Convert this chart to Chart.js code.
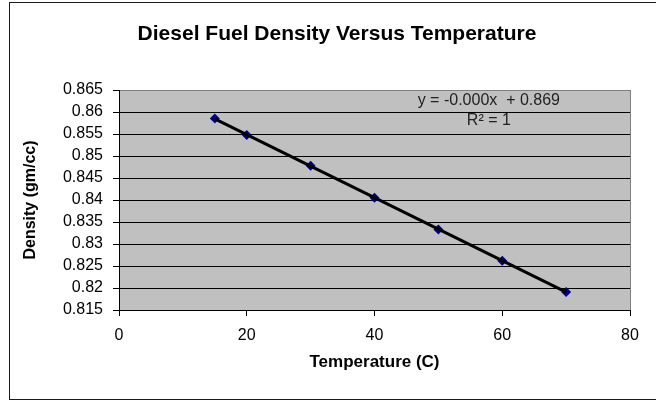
<!DOCTYPE html>
<html>
<head>
<meta charset="utf-8">
<title>Diesel Fuel Density Versus Temperature</title>
<script src="https://cdn.jsdelivr.net/npm/chart.js@4.4.1/dist/chart.umd.min.js"></script>
<style>
  html, body { margin: 0; padding: 0; background: #fff; }
  #wrap { width: 656px; height: 402px; }
</style>
</head>
<body>
<div id="wrap"><canvas id="densityChart" width="656" height="402"></canvas></div>
<script>
// Data
const temperatures = [15, 20, 30, 40, 50, 60, 70];
const densities = [0.8585, 0.8548, 0.8478, 0.8405, 0.8333, 0.8262, 0.8191];

const xTickLabels = ['0', '20', '40', '60', '80'];
const yTickLabels = ['0.815', '0.82', '0.825', '0.83', '0.835', '0.84', '0.845', '0.85', '0.855', '0.86', '0.865'];

const chartTitle = 'Diesel Fuel Density Versus Temperature';
const trendEquation = 'y = -0.000x  + 0.869';
const trendR2 = 'R\u00b2 = 1';

const FONT = '"Liberation Sans", Arial, sans-serif';

// least squares fit, used for the trendline drawn over the markers
function linearFit(xs, ys) {
  const n = xs.length;
  const mx = xs.reduce((a, b) => a + b, 0) / n;
  const my = ys.reduce((a, b) => a + b, 0) / n;
  let sxy = 0, sxx = 0;
  for (let i = 0; i < n; i++) {
    sxy += (xs[i] - mx) * (ys[i] - my);
    sxx += (xs[i] - mx) * (xs[i] - mx);
  }
  const slope = sxy / sxx;
  return { slope, intercept: my - slope * mx };
}

const fit = linearFit(temperatures, densities);
const xMin = Math.min(...temperatures);
const xMax = Math.max(...temperatures);
const trendPoints = [
  { x: xMin, y: fit.intercept + fit.slope * xMin },
  { x: xMax, y: fit.intercept + fit.slope * xMax }
];

// gray plot area, its border, the outer frame, the title and the trendline label
const frame = {
  id: 'frame',
  beforeDraw(chart) {
    const { ctx, chartArea: a } = chart;
    ctx.save();
    ctx.fillStyle = '#ffffff';
    ctx.fillRect(0, 0, chart.width, chart.height);
    ctx.strokeStyle = '#1a1a1a';
    ctx.lineWidth = 1;
    ctx.strokeRect(9.5, 2.5, 700, 397);
    ctx.fillStyle = '#c0c0c0';
    ctx.fillRect(a.left, a.top, a.right - a.left, a.bottom - a.top);
    ctx.strokeStyle = '#808080';
    ctx.strokeRect(a.left + 0.5, a.top + 0.5, a.right - a.left, a.bottom - a.top);

    // title sits a little right of centre, like the Excel original
    ctx.fillStyle = '#000';
    ctx.font = 'bold 21px ' + FONT;
    ctx.textAlign = 'center';
    ctx.textBaseline = 'alphabetic';
    ctx.fillText(chartTitle, 337, 40);
    ctx.restore();
  },
  afterDatasetsDraw(chart) {
    const { ctx, scales } = chart;
    ctx.save();
    ctx.fillStyle = '#222';
    ctx.font = '16px ' + FONT;
    ctx.textAlign = 'center';
    ctx.textBaseline = 'middle';
    const cx = scales.x.getPixelForValue(57.9);
    ctx.fillText(trendEquation, cx, scales.y.getPixelForValue(0.8625));
    ctx.fillText(trendR2, cx, scales.y.getPixelForValue(0.858));
    ctx.restore();
  }
};

const ctx = document.getElementById('densityChart').getContext('2d');
new Chart(ctx, {
  type: 'scatter',
  data: {
    datasets: [
      {
        label: 'Linear (Density)',
        data: trendPoints,
        showLine: true,
        borderColor: '#000',
        borderWidth: 3,
        pointRadius: 0,
        order: 0
      },
      {
        label: 'Density',
        data: temperatures.map((t, i) => ({ x: t, y: densities[i] })),
        pointStyle: 'rectRot',
        pointRadius: 5,
        backgroundColor: '#000080',
        borderColor: '#000080',
        borderWidth: 0,
        order: 1
      }
    ]
  },
  options: {
    responsive: false,
    animation: false,
    devicePixelRatio: 1,
    layout: { padding: { left: 10, top: 90, right: 26, bottom: 2 } },
    plugins: {
      legend: { display: false },
      tooltip: { enabled: false },
      title: { display: false }
    },
    scales: {
      x: {
        type: 'linear',
        min: 0,
        max: 80,
        afterFit: s => { s.height = 90; },
        ticks: {
          stepSize: 20,
          autoSkip: false,
          color: '#000',
          padding: 10,
          maxRotation: 0,
          font: { family: FONT, size: 16 },
          callback: (v, i) => xTickLabels[i]
        },
        grid: { drawOnChartArea: false, drawTicks: true, tickLength: 6, tickColor: '#000' },
        border: { display: true, color: '#000', width: 1 },
        title: {
          display: true,
          text: 'Temperature (C)',
          color: '#000',
          font: { family: FONT, size: 17, weight: 'bold' },
          padding: { top: 0, bottom: 27 }
        }
      },
      y: {
        type: 'linear',
        min: 0.815,
        max: 0.865,
        afterFit: s => { s.width = 109; },
        ticks: {
          stepSize: 0.005,
          autoSkip: false,
          color: '#000',
          padding: 10,
          font: { family: FONT, size: 16 },
          callback: (v, i) => yTickLabels[i]
        },
        grid: {
          color: c => (c.index === yTickLabels.length - 1 ? 'rgba(0,0,0,0)' : '#000'),
          tickColor: '#000',
          tickLength: 6,
          lineWidth: 1
        },
        border: { display: true, color: '#000', width: 1 },
        title: {
          display: true,
          text: 'Density (gm/cc)',
          color: '#000',
          font: { family: FONT, size: 16, weight: 'bold' },
          padding: { top: 11, bottom: 0 }
        }
      }
    }
  },
  plugins: [frame]
});
</script>
</body>
</html>
